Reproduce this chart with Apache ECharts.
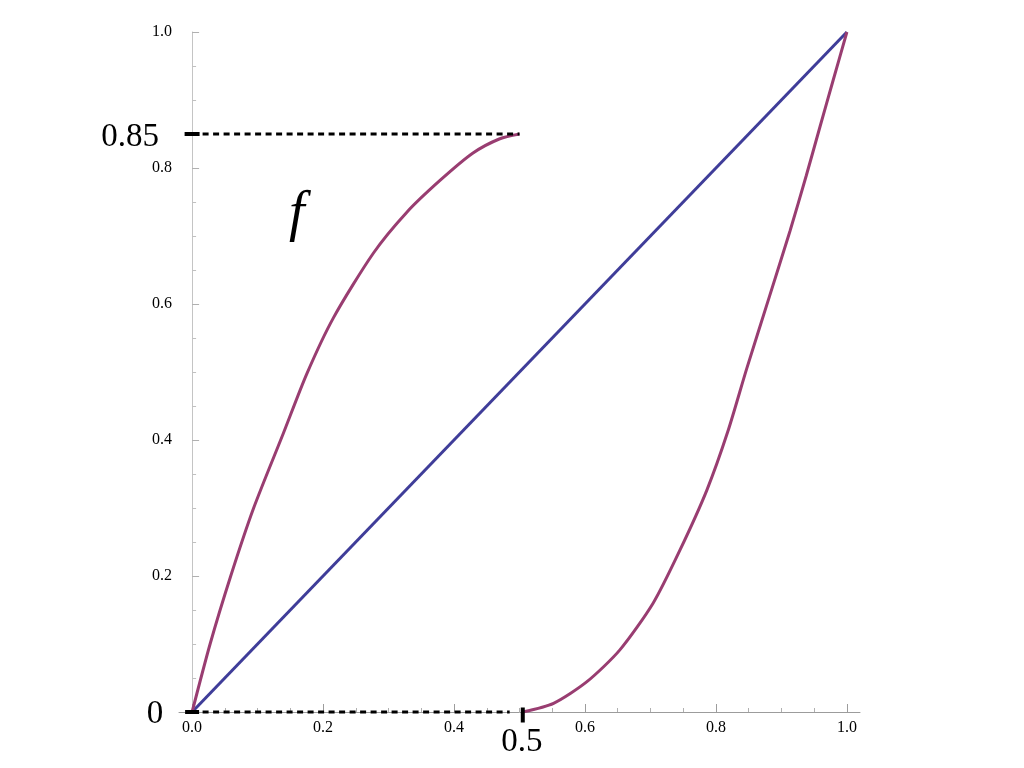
<!DOCTYPE html>
<html>
<head>
<meta charset="utf-8">
<title>f</title>
<script src="https://cdn.jsdelivr.net/npm/echarts@6/dist/echarts.min.js"></script>
<style>
html, body { margin: 0; padding: 0; background: #fff; }
#main { width: 1024px; height: 768px; }
</style>
</head>
<body>
<div id="main"></div>
<script>
// tick values
var xMajor = [0, 0.2, 0.4, 0.6, 0.8, 1.0];
var yMajor = [0.2, 0.4, 0.6, 0.8, 1.0];
var minorTicks = [0.05, 0.1, 0.15, 0.25, 0.3, 0.35, 0.45, 0.5, 0.55, 0.65, 0.7, 0.75, 0.85, 0.9, 0.95];

// diagonal y = x
var diagX = [0, 1];
var diagY = [0, 1];

// f, left branch (rises to 0.85 at 0.5)
var leftX = [0, 0.0275, 0.059, 0.094, 0.1394, 0.175, 0.216, 0.277, 0.328, 0.379, 0.429, 0.470, 0.5];
var leftY = [0, 0.1, 0.2, 0.3, 0.41, 0.497, 0.58, 0.675, 0.735, 0.782, 0.822, 0.843, 0.85];

// f, right branch (leaves 0 at about 0.5, ends at 1)
var rightX = [0.505, 0.552, 0.603, 0.653, 0.704, 0.745, 0.786, 0.818, 0.847, 0.882, 0.913, 0.938, 0.959, 0.979, 1];
var rightY = [0, 0.0128, 0.0446, 0.091, 0.160, 0.238, 0.326, 0.412, 0.505, 0.612, 0.707, 0.789, 0.861, 0.929, 1];

// dashed guides
var topGuideX = [0, 0.5];
var topGuideY = [0.85, 0.85];
var bottomGuideX = [0, 0.485];
var bottomGuideY = [0, 0];

// annotation texts and where they belong
var noteText = ['0.85', '0', '0.5', 'f'];
var noteX = [0, 0, 0.505, 0.16];
var noteY = [0.85, 0, 0, 0.73];

var blue = '#3f3d99';
var purple = '#993d71';
var serif = 'Liberation Serif';

function pairs(xs, ys) {
	return xs.map(function (v, i) { return [v, ys[i]]; });
}

var chart = echarts.init(document.getElementById('main'));

var labelFmt = function (v) { return v.toFixed(1); };

var option = {
	backgroundColor: '#fff',
	animation: false,
	grid: { left: 179, right: 164, top: 32, bottom: 56 },
	xAxis: [
		{
			type: 'value', min: -0.02, max: 1.02,
			splitLine: { show: false },
			axisLine: { lineStyle: { color: '#9c9c9c', width: 1 } },
			axisTick: { inside: true, length: 8, customValues: xMajor, lineStyle: { color: '#9c9c9c' } },
			axisLabel: { customValues: xMajor, formatter: labelFmt, color: '#000', fontFamily: serif, fontSize: 16, margin: 8 }
		},
		{
			// minor ticks only
			type: 'value', min: -0.02, max: 1.02, position: 'bottom',
			splitLine: { show: false },
			axisLine: { lineStyle: { color: '#9c9c9c', opacity: 0 } },
			axisTick: { inside: true, length: 4, customValues: minorTicks, lineStyle: { color: '#b0b0b0' } },
			axisLabel: { show: false }
		}
	],
	yAxis: [
		{
			type: 'value', min: 0, max: 1,
			splitLine: { show: false },
			axisLine: { lineStyle: { color: '#c4c4c4', width: 1 } },
			axisTick: { inside: true, length: 7, customValues: yMajor, lineStyle: { color: '#b0b0b0' } },
			axisLabel: { customValues: yMajor, formatter: labelFmt, color: '#000', fontFamily: serif, fontSize: 16, margin: 7 }
		},
		{
			type: 'value', min: 0, max: 1, position: 'left',
			splitLine: { show: false },
			axisLine: { lineStyle: { color: '#c4c4c4', opacity: 0 } },
			axisTick: { inside: true, length: 4, customValues: minorTicks, lineStyle: { color: '#c0c0c0' } },
			axisLabel: { show: false }
		}
	],
	series: [
		{
			type: 'line', data: pairs(diagX, diagY), showSymbol: false, silent: true, clip: false,
			lineStyle: { color: blue, width: 3 }
		},
		{
			type: 'line', data: pairs(leftX, leftY), showSymbol: false, silent: true, clip: false,
			smooth: 0.25,
			lineStyle: { color: purple, width: 3 }
		},
		{
			type: 'line', data: pairs(rightX, rightY), showSymbol: false, silent: true, clip: false,
			smooth: 0.25,
			lineStyle: { color: purple, width: 3 }
		},
		{
			type: 'line', data: pairs(topGuideX, topGuideY), showSymbol: false, silent: true, clip: false,
			lineStyle: { color: '#000', width: 3, type: [6, 4.5] }, z: 10
		},
		{
			type: 'line', data: pairs(bottomGuideX, bottomGuideY), showSymbol: false, silent: true, clip: false,
			lineStyle: { color: '#000', width: 3, type: [6, 4.5] }, z: 10
		},
		{
			// thick marks on the axes
			type: 'scatter', silent: true, clip: false, symbol: 'rect',
			itemStyle: { color: '#000', opacity: 1 },
			data: [
				{ value: [noteX[0], noteY[0]], symbolSize: [15, 4] },
				{ value: [noteX[1], noteY[1]], symbolSize: [14, 4] },
				{ value: [noteX[2], noteY[2]], symbolSize: [4, 15], symbolOffset: [0, 3] }
			],
			z: 11
		},
		{
			type: 'scatter', silent: true, clip: false, symbolSize: 0,
			itemStyle: { color: '#000', opacity: 1 },
			label: {
				show: true, position: 'inside', color: '#000', fontFamily: serif, fontSize: 33,
				formatter: function (p) { return p.name; }
			},
			data: [
				{ name: noteText[0], value: [noteX[0], noteY[0]], label: { offset: [-62, 3] } },
				{ name: noteText[1], value: [noteX[1], noteY[1]], label: { offset: [-37, 2] } },
				{ name: noteText[2], value: [noteX[2], noteY[2]], label: { offset: [-1, 30] } },
				{ name: noteText[3], value: [noteX[3], noteY[3]], label: { fontSize: 56, fontStyle: 'italic' } }
			],
			z: 12
		}
	]
};

chart.setOption(option, true);
</script>
</body>
</html>
